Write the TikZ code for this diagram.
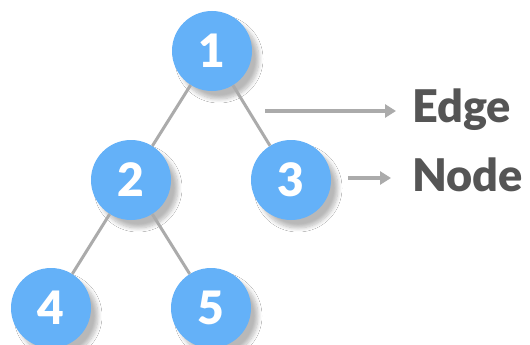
\documentclass[tikz,border=0pt]{standalone}
\usepackage{fontspec}
\setmainfont{Lato}[BoldFont={Lato Black}]
\usetikzlibrary{shadows.blur,arrows.meta}
\definecolor{nodeblue}{HTML}{64B1F8}
\definecolor{edgegray}{HTML}{ABABAB}
\definecolor{textgray}{HTML}{555555}
\begin{document}
\begin{tikzpicture}[x=1pt,y=-1pt,
  treenode/.style={circle,fill=nodeblue,minimum size=80pt,inner sep=0pt,text=white,
    font=\fontsize{46}{46}\selectfont\bfseries,
    blur shadow={shadow xshift=7pt,shadow yshift=-8pt,shadow blur radius=4pt,shadow blur steps=8,shadow opacity=28}},
  treeedge/.style={draw=edgegray,line width=3pt},
  pointer/.style={draw=edgegray,line width=4.5pt,-{Triangle[length=11pt,width=13pt]}},
  label/.style={anchor=base west,text=textgray,font=\fontsize{45}{45}\selectfont\bfseries,inner sep=0pt}]
\useasboundingbox (0,0) rectangle (530,345);
\fill[white] (0,0) rectangle (530,345);
\node[treenode] (n1) at (212,51) {1};
\node[treenode] (n2) at (131,180) {2};
\node[treenode] (n3) at (291,180) {3};
\node[treenode] (n4) at (51,308) {4};
\node[treenode] (n5) at (211,308) {5};
\draw[treeedge] (n1) -- (n2);
\draw[treeedge] (n1) -- (n3);
\draw[treeedge] (n2) -- (n4);
\draw[treeedge] (n2) -- (n5);
\node[label] (edge) at (412,122) {Edge};
\node[label] (node) at (412,191) {Node};
\coordinate (e0) at (265,111);
\coordinate (e1) at (396,111);
\coordinate (d0) at (348,178);
\coordinate (d1) at (391,178);
\draw[pointer] (e0) -- (e1);
\draw[pointer] (d0) -- (d1);
\end{tikzpicture}
\end{document}
